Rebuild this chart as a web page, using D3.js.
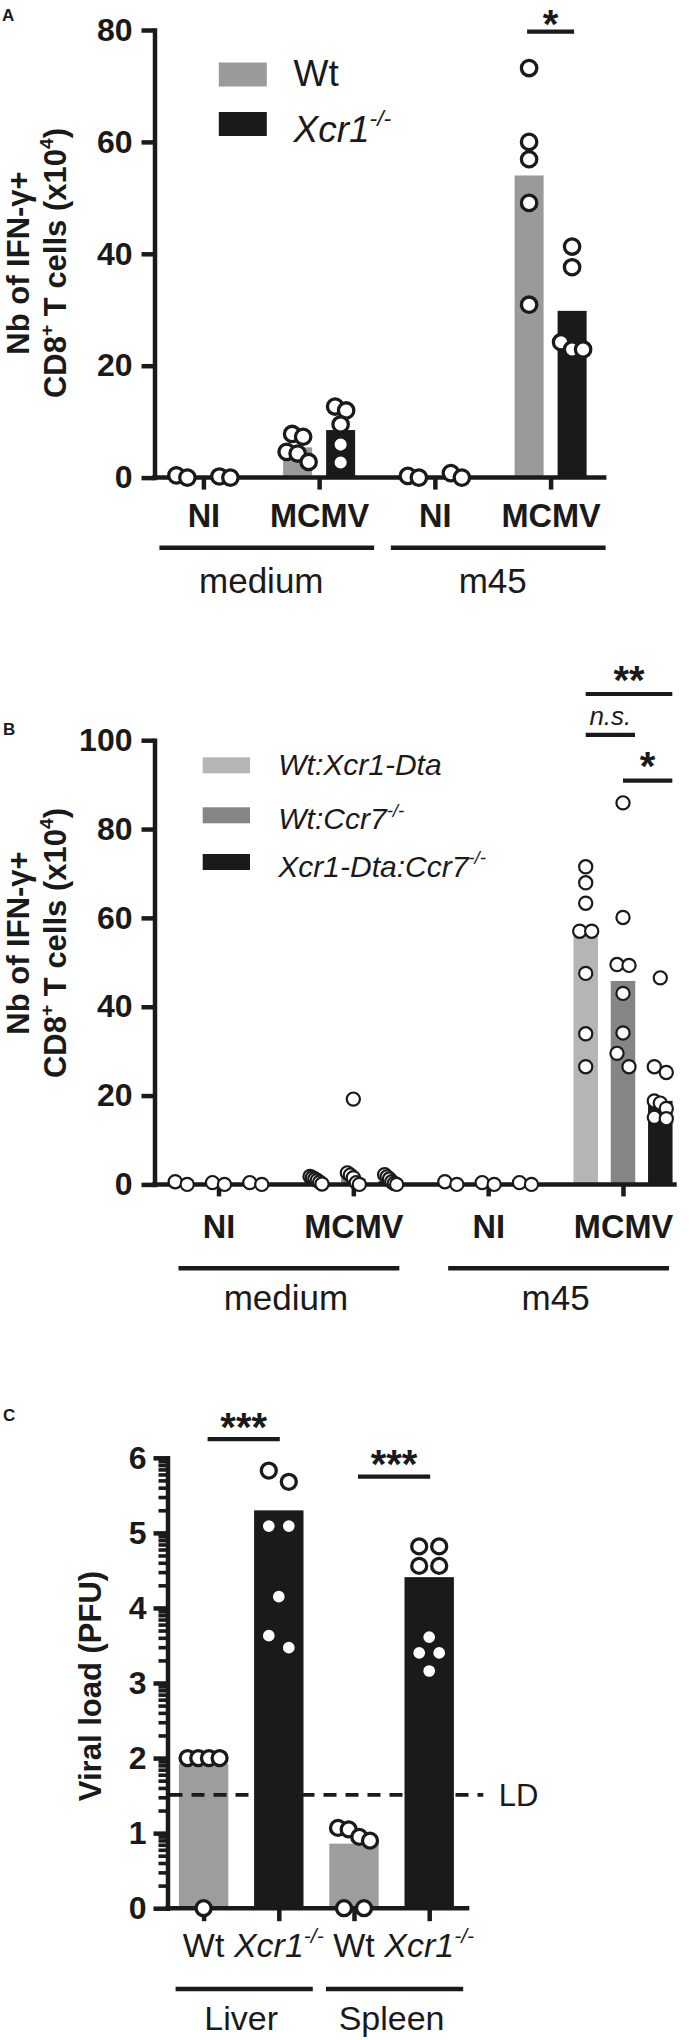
<!DOCTYPE html>
<html><head><meta charset="utf-8">
<script src="https://cdn.jsdelivr.net/npm/d3@7"></script>
<style>
body{margin:0;background:#fff}
svg{display:block}
text{font-family:"Liberation Sans",Arial,Helvetica,sans-serif;fill:#1a1a1a}
</style>
</head><body>
<svg id="chart" width="689" height="2040"></svg>
<script>
// ---------------- DATA ----------------
// Panel A
const groupsA = ["medium NI", "medium MCMV", "m45 NI", "m45 MCMV"];
const tickLabelsA = ["NI", "MCMV", "NI", "MCMV"];
const stimuliA = ["medium", "m45"];
const seriesA = ["Wt", "Xcr1^-/-"];
const yTicksA = [0, 20, 40, 60, 80];
const barsA_Wt = [0.1, 5.4, 0.1, 54.0];
const barsA_Xcr1 = [0.1, 8.5, 0.4, 29.8];
const pointsA_Wt = [[0.4, 0], [7.8, 7.3, 4.6, 4.3, 2.8], [0.3, 0], [73.2, 60.0, 56.9, 49.1, 30.9]];
const pointsA_Xcr1 = [[0.2, 0], [12.7, 12.0, 9.5, 5.9, 2.7], [0.8, 0], [41.3, 37.6, 24.2, 22.9, 22.9]];
const sigA = [{group: "m45 MCMV", from: "Wt", to: "Xcr1^-/-", level: 79.7, label: "*"}];

// Panel B
const groupsB = ["medium NI", "medium MCMV", "m45 NI", "m45 MCMV"];
const tickLabelsB = ["NI", "MCMV", "NI", "MCMV"];
const stimuliB = ["medium", "m45"];
const seriesB = ["Wt:Xcr1-Dta", "Wt:Ccr7^-/-", "Xcr1-Dta:Ccr7^-/-"];
const yTicksB = [0, 20, 40, 60, 80, 100];
const barsB_WtXcr1Dta = [0, 1.0, 0, 57.9];
const barsB_WtCcr7 = [0, 1.4, 0, 45.8];
const barsB_Xcr1DtaCcr7 = [0, 0.7, 0, 18.8];
const pointsB_WtXcr1Dta = [[0.6, 0], [1.8, 1.5, 1.2, 0.9, 0.5, 0.1], [0.6, 0], [71.5, 67.9, 63.3, 57.0, 57.0, 47.5, 33.9, 26.5]];
const pointsB_WtCcr7 = [[0.4, 0], [19.2, 2.6, 2.1, 1.5, 0.4, 0], [0.4, 0], [85.9, 60.1, 49.5, 49.3, 43.0, 34.1, 29.5, 26.5]];
const pointsB_Xcr1DtaCcr7 = [[0.4, 0], [2.2, 1.7, 1.2, 0.6, 0.2, 0], [0.4, 0], [46.5, 26.5, 25.2, 18.8, 18.3, 17.1, 15.1, 14.8]];
const sigB = [
  {group: "m45 MCMV", from: "Wt:Xcr1-Dta", to: "Xcr1-Dta:Ccr7^-/-", level: 110.4, label: "**"},
  {group: "m45 MCMV", from: "Wt:Xcr1-Dta", to: "Wt:Ccr7^-/-", level: 101.2, label: "n.s."},
  {group: "m45 MCMV", from: "Wt:Ccr7^-/-", to: "Xcr1-Dta:Ccr7^-/-", level: 90.9, label: "*"}
];

// Panel C
const categoriesC = ["Liver Wt", "Liver Xcr1", "Spleen Wt", "Spleen Xcr1"];
const tickLabelsC = ["Wt", "Xcr1^-/-", "Wt", "Xcr1^-/-"];
const organsC = ["Liver", "Spleen"];
const yTicksC = [0, 1, 2, 3, 4, 5, 6];
const barsC = [1.92, 5.30, 0.86, 4.41];
const pointsC = [[2.0, 2.0, 2.0, 2.0, 0], [5.83, 5.68, 5.09, 5.09, 4.15, 3.63, 3.47], [1.07, 1.05, 0.95, 0.90, 0, 0], [4.82, 4.82, 4.56, 4.56, 3.61, 3.40, 3.40, 3.16]];
const limitC = 1.51;
const sigC = [
  {from: "Liver Wt", to: "Liver Xcr1", level: 6.25, label: "***"},
  {from: "Spleen Wt", to: "Spleen Xcr1", level: 5.75, label: "***"}
];

// ---------------- HELPERS ----------------
const INK = "#1a1a1a";
const STAR_FONT = "'DejaVu Sans', 'Liberation Sans', sans-serif";
const svg = d3.select("#chart");

function parseSup(s) {
  const p = s.split("^");
  return p.length > 1 ? [{t: p[0]}, {t: p[1], sup: true}] : [{t: p[0]}];
}
function rich(sel, parts, size) {
  let shift = 0;
  parts.forEach(p => {
    const ts = sel.append("tspan").text(p.t);
    const target = p.sup ? -size * 0.42 : 0;
    if (target !== shift) { ts.attr("dy", target - shift); shift = target; }
    if (p.sup) ts.attr("font-size", size * 0.62);
  });
}
function addText(g, x, y, str, size, opt = {}) {
  const t = g.append("text").attr("x", x).attr("y", y)
    .attr("font-size", size)
    .attr("font-weight", opt.bold ? "bold" : "normal")
    .attr("font-style", opt.italic ? "italic" : "normal")
    .attr("text-anchor", opt.anchor || "start");
  if (opt.family) t.attr("font-family", opt.family);
  rich(t, opt.parts || parseSup(str), size);
  return t;
}
function addStars(g, x, glyphCenterY, label) {
  const size = 40;
  // asterisk glyph centre sits ~0.59em above the baseline; keep the text box inside the page
  const baseline = Math.max(glyphCenterY + 0.59 * size, 0.93 * size + 1);
  return addText(g, x, baseline, label, size, {bold: true, anchor: "middle", family: STAR_FONT});
}
function rotTitle(g, x, y, lines, size, gap) {
  const gg = g.append("g").attr("transform", `translate(${x},${y}) rotate(-90)`);
  lines.forEach((parts, i) => addText(gg, 0, i * gap, "", size, {bold: true, anchor: "middle", parts}));
}
// Prism-like row arrangement of scatter points
function rowSwarm(vals, y, binH, s, cap) {
  const idx = d3.range(vals.length).sort((a, b) => vals[b] - vals[a]);
  const off = new Array(vals.length).fill(0);
  let i = 0;
  while (i < idx.length) {
    const y0 = y(vals[idx[i]]);
    let j = i + 1;
    while (j < idx.length && Math.abs(y(vals[idx[j]]) - y0) < binH) j++;
    const n = j - i;
    const step = n > 1 ? Math.min(s, 2 * cap / (n - 1)) : 0;
    for (let k = 0; k < n; k++) off[idx[i + k]] = (k - (n - 1) / 2) * step;
    i = j;
  }
  return off;
}
function styleAxis(g, sw, fs) {
  g.attr("font-family", null).attr("font-size", null);
  g.select(".domain").attr("stroke", INK).attr("stroke-width", sw).attr("stroke-linecap", "square");
  g.selectAll(".tick line").attr("stroke", INK).attr("stroke-width", sw);
  g.selectAll(".tick text").attr("fill", INK).attr("font-size", fs).attr("font-weight", "bold");
}

// ---------------- GROUPED PANELS (A, B) ----------------
function drawGrouped(c) {
  const g = svg.append("g");
  const y = c.y, x = c.x, sub = c.sub;
  const base = y(0);
  // bars
  c.series.forEach((s, si) => {
    g.selectAll(null).data(c.bars[si]).join("rect")
      .attr("x", (d, i) => x(c.groups[i]) + sub(s) - c.bw / 2)
      .attr("y", d => y(d))
      .attr("width", c.bw)
      .attr("height", d => base - y(d))
      .attr("fill", c.colors[si]);
  });
  // y axis
  const ya = g.append("g").attr("transform", `translate(${c.axisX},0)`)
    .call(d3.axisLeft(y).tickValues(c.yTicks).tickSize(13).tickPadding(9).tickSizeOuter(0).tickFormat(d3.format("d")));
  styleAxis(ya, 4.5, 32);
  // x axis
  g.append("line").attr("x1", c.axisX - 2.25).attr("x2", c.axisEnd)
    .attr("y1", base).attr("y2", base).attr("stroke", INK).attr("stroke-width", 4.5);
  const xa = g.append("g").attr("transform", `translate(0,${base})`)
    .call(d3.axisBottom(x).tickSize(12).tickSizeOuter(0).tickFormat((d, i) => c.tickLabels[i]));
  styleAxis(xa, 4.5, 32.5);
  xa.select(".domain").remove();
  xa.selectAll(".tick text").attr("y", c.tickLabelY - base).attr("dy", 0);
  // points
  c.series.forEach((s, si) => {
    c.points[si].forEach((vals, gi) => {
      const offs = rowSwarm(vals, y, c.binH, c.spacing, c.cap);
      g.selectAll(null).data(vals).join("circle")
        .attr("cx", (d, k) => x(c.groups[gi]) + sub(s) + offs[k])
        .attr("cy", d => y(d))
        .attr("r", c.r)
        .attr("fill", "#fff").attr("stroke", INK).attr("stroke-width", c.sw);
    });
  });
  // stimulus group lines and labels
  c.stimuli.forEach((st, k) => {
    const a = x(c.groups[2 * k]), b = x(c.groups[2 * k + 1]);
    g.append("line").attr("x1", a + c.lineL).attr("x2", b + c.lineR)
      .attr("y1", c.groupLineY).attr("y2", c.groupLineY)
      .attr("stroke", INK).attr("stroke-width", 4.5);
    addText(g, (a + b) / 2, c.groupLabelY, st, 35, {anchor: "middle"});
  });
  // significance
  c.sig.forEach(s => {
    const xa1 = x(s.group) + sub(s.from) + c.sigL, xb1 = x(s.group) + sub(s.to) + c.sigR;
    const ly = y(s.level);
    g.append("line").attr("x1", xa1).attr("x2", xb1).attr("y1", ly).attr("y2", ly)
      .attr("stroke", INK).attr("stroke-width", 4.2);
    if (s.label === "n.s.") addText(g, (xa1 + xb1) / 2, ly - 10, s.label, 26, {italic: true, anchor: "middle"});
    else addStars(g, (xa1 + xb1) / 2, ly - 24, s.label);
  });
  return g;
}

// ---------- Panel A ----------
const yA = d3.scaleLinear().domain([0, 80]).range([477.6, 30]);
const xA = d3.scalePoint().domain(groupsA).range([203.4, 550.6]);
const subA = d3.scalePoint().domain(seriesA).range([-21.5, 21.5]);
const colorsA = ["#9a9a9a", INK];
const gA = drawGrouped({
  y: yA, x: xA, sub: subA, groups: groupsA, series: seriesA, tickLabels: tickLabelsA,
  stimuli: stimuliA, yTicks: yTicksA, bars: [barsA_Wt, barsA_Xcr1], points: [pointsA_Wt, pointsA_Xcr1],
  colors: colorsA, bw: 29, r: 7.7, sw: 3.3, binH: 12, spacing: 11, cap: 12,
  axisX: 154.5, axisEnd: 606.4, tickLabelY: 527.5, groupLineY: 547.7, groupLabelY: 593,
  lineL: -44, lineR: 55, sig: sigA, sigL: -2, sigR: 2
});
addText(gA, 2, 21, "A", 17, {bold: true});
rotTitle(gA, 28.7, 263, [[{t: "Nb of IFN-γ+"}], [{t: "CD8"}, {t: "+", sup: true}, {t: " T cells (x10"}, {t: "4", sup: true}, {t: ")"}]], 31, 37.4);
// legend A
seriesA.forEach((s, i) => {
  gA.append("rect").attr("x", 218.8).attr("y", [62.5, 112][i]).attr("width", 48).attr("height", 24).attr("fill", colorsA[i]);
  addText(gA, 293.5, [86, 142][i], s, 37, {italic: i === 1});
});

// ---------- Panel B ----------
const yB = d3.scaleLinear().domain([0, 100]).range([1184.4, 740.2]);
const xB = d3.scalePoint().domain(groupsB).range([218.5, 623]);
const subB = d3.scalePoint().domain(seriesB).range([-37.3, 37.3]);
const colorsB = ["#b5b5b5", "#858585", INK];
const gB = drawGrouped({
  y: yB, x: xB, sub: subB, groups: groupsB, series: seriesB, tickLabels: tickLabelsB,
  stimuli: stimuliB, yTicks: yTicksB, bars: [barsB_WtXcr1Dta, barsB_WtCcr7, barsB_Xcr1DtaCcr7],
  points: [pointsB_WtXcr1Dta, pointsB_WtCcr7, pointsB_Xcr1DtaCcr7],
  colors: colorsB, bw: 24.5, r: 6.6, sw: 2.2, binH: 15, spacing: 12, cap: 6,
  axisX: 154.5, axisEnd: 676.7, tickLabelY: 1238.3, groupLineY: 1268.3, groupLabelY: 1310,
  lineL: -40, lineR: 46, sig: sigB, sigL: 0, sigR: 12
});
addText(gB, 3, 735, "B", 17, {bold: true});
rotTitle(gB, 28.7, 943, [[{t: "Nb of IFN-γ+"}], [{t: "CD8"}, {t: "+", sup: true}, {t: " T cells (x10"}, {t: "4", sup: true}, {t: ")"}]], 31, 37.4);
seriesB.forEach((s, i) => {
  gB.append("rect").attr("x", 202.7).attr("y", [757.3, 807.3, 854][i]).attr("width", 47.3).attr("height", 16).attr("fill", colorsB[i]);
  addText(gB, 278.3, [775, 829.3, 876.7][i], s, 30, {italic: true});
});

// ---------- Panel C ----------
(function () {
  const g = svg.append("g");
  const y = d3.scaleLinear().domain([0, 6]).range([1908.2, 1457.8]);
  const x = d3.scalePoint().domain(categoriesC).range([203.6, 429.2]);
  const colors = ["#9d9d9d", INK, "#9d9d9d", INK];
  const bw = 49.4, base = y(0), axisX = 167.5;
  g.selectAll(null).data(barsC).join("rect")
    .attr("x", (d, i) => x(categoriesC[i]) - bw / 2)
    .attr("y", d => y(d)).attr("width", bw).attr("height", d => base - y(d))
    .attr("fill", (d, i) => colors[i]);
  // limit of detection
  g.append("line").attr("x1", axisX + 2).attr("x2", 483.3).attr("y1", y(limitC)).attr("y2", y(limitC))
    .attr("stroke", INK).attr("stroke-width", 3.6).attr("stroke-dasharray", "13,9");
  addText(g, 498.7, y(limitC) + 11, "LD", 31);
  // axes
  const minor = [];
  for (let i = 0; i < 6; i++) for (let k = 2; k <= 9; k++) minor.push(i + Math.log10(k));
  const ym = g.append("g").attr("transform", `translate(${axisX},0)`)
    .call(d3.axisLeft(y).tickValues(minor).tickSize(9).tickSizeOuter(0).tickFormat(""));
  styleAxis(ym, 3.6, 32);
  const ya = g.append("g").attr("transform", `translate(${axisX},0)`)
    .call(d3.axisLeft(y).tickValues(yTicksC).tickSize(14).tickPadding(7).tickSizeOuter(0).tickFormat(d3.format("d")));
  styleAxis(ya, 4.5, 32);
  g.append("line").attr("x1", axisX - 2.25).attr("x2", 469.3).attr("y1", base).attr("y2", base)
    .attr("stroke", INK).attr("stroke-width", 4.5);
  const xa = g.append("g").attr("transform", `translate(0,${base})`)
    .call(d3.axisBottom(x).tickSize(13).tickSizeOuter(0).tickFormat(""));
  styleAxis(xa, 4.5, 34);
  xa.select(".domain").remove();
  tickLabelsC.forEach((t, i) => addText(g, x(categoriesC[i]), 1957.4, t, 34, {anchor: "middle", italic: i % 2 === 1}));
  // points
  pointsC.forEach((vals, gi) => {
    const offs = rowSwarm(vals, y, 14, 20, 16);
    g.selectAll(null).data(vals).join("circle")
      .attr("cx", (d, k) => x(categoriesC[gi]) + offs[k]).attr("cy", d => y(d))
      .attr("r", 7.5).attr("fill", "#fff").attr("stroke", INK).attr("stroke-width", 3.3);
  });
  // organ lines
  organsC.forEach((o, k) => {
    const a = x(categoriesC[2 * k]), b = x(categoriesC[2 * k + 1]);
    g.append("line").attr("x1", a - 28).attr("x2", b + 34).attr("y1", 1989).attr("y2", 1989)
      .attr("stroke", INK).attr("stroke-width", 4.5);
    addText(g, (a + b) / 2, 2030, o, 34, {anchor: "middle"});
  });
  // significance
  sigC.forEach(s => {
    const x1 = x(s.from) + 4, x2 = x(s.to) + 1, ly = y(s.level);
    g.append("line").attr("x1", x1).attr("x2", x2).attr("y1", ly).attr("y2", ly)
      .attr("stroke", INK).attr("stroke-width", 4.2);
    addStars(g, (x1 + x2) / 2, ly - 22, s.label);
  });
  addText(g, 3, 1421, "C", 17, {bold: true});
  rotTitle(g, 101, 1686, [[{t: "Viral load (PFU)"}]], 31, 0);
})();
</script>
</body></html>
